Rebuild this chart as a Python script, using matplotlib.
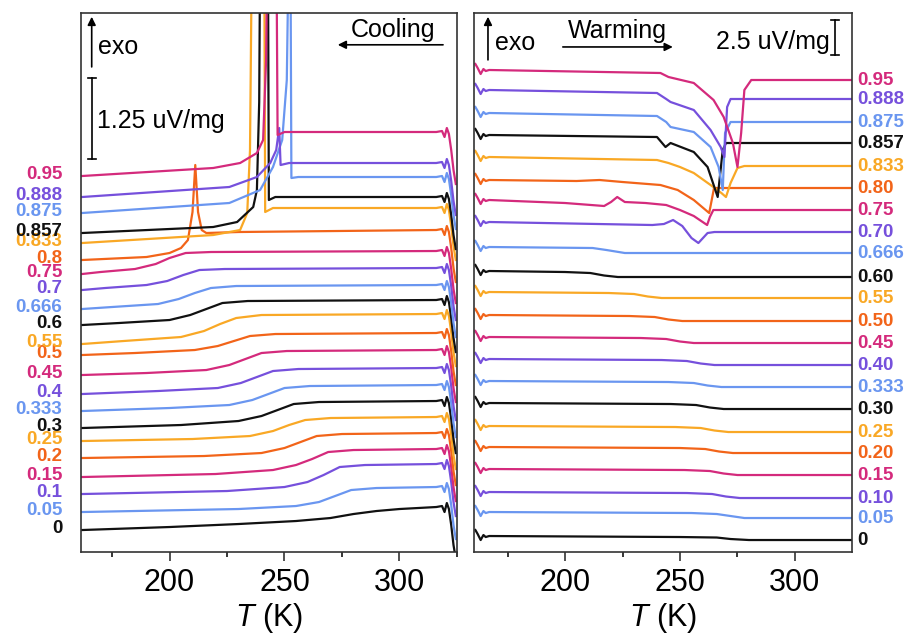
import matplotlib
matplotlib.use("Agg")
import matplotlib.pyplot as plt
from matplotlib.ticker import MultipleLocator

plt.rcParams['font.family'] = ['Liberation Sans', 'DejaVu Sans']
plt.rcParams['mathtext.fontset'] = 'custom'
plt.rcParams['mathtext.it'] = 'Liberation Sans:italic'
plt.rcParams['mathtext.rm'] = 'Liberation Sans'

# ---------------- colours (cycle of six, from composition 0 upward) -------------
palette = ['#111111', '#6A96F0', '#7650DC', '#D42A7C', '#F26419', '#F9A825']

# ---------------- composition labels (bottom -> top) ----------------------------
cool_labels = ['0', '0.05', '0.1', '0.15', '0.2', '0.25', '0.3', '0.333', '0.4',
               '0.45', '0.5', '0.55', '0.6', '0.666', '0.7', '0.75', '0.8',
               '0.833', '0.857', '0.875', '0.888', '0.95']
warm_labels = ['0', '0.05', '0.10', '0.15', '0.20', '0.25', '0.30', '0.333', '0.40',
               '0.45', '0.50', '0.55', '0.60', '0.666', '0.70', '0.75', '0.80',
               '0.833', '0.857', '0.875', '0.888', '0.95']

# ---------------- cooling curves: T (K) and offset heat-flow signal (a.u.) -------
T_c0 = [162, 200, 230, 255, 270, 280, 290, 300, 316]
s_c0 = [22, 25, 28, 31, 34, 38, 41, 43, 45]
T_c1 = [162, 230, 255, 265, 272, 279, 290, 316]
s_c1 = [40, 43, 46, 50, 56, 62, 64, 65]
T_c2 = [162, 225, 250, 260, 267, 274, 285, 316]
s_c2 = [58, 61, 65, 70, 77, 85, 87, 88]
T_c3 = [162, 220, 245, 255, 262, 269, 280, 316]
s_c3 = [75, 78, 82, 87, 93, 100, 102, 103]
T_c4 = [162, 215, 240, 250, 257, 264, 275, 316]
s_c4 = [94, 96, 99, 104, 110, 116, 118, 119]
T_c5 = [162, 210, 235, 245, 252, 259, 270, 316]
s_c5 = [111, 113, 116, 121, 127, 132, 134, 135]
T_c6 = [162, 205, 230, 240, 247, 254, 265, 316]
s_c6 = [124, 127, 131, 136, 142, 148, 150, 151]
T_c7 = [162, 200, 226, 236, 243, 250, 261, 316]
s_c7 = [141, 144, 147, 152, 158, 164, 166, 167]
T_c8 = [162, 195, 221, 231, 238, 245, 256, 316]
s_c8 = [158, 161, 164, 169, 175, 181, 183, 184]
T_c9 = [162, 190, 216, 226, 233, 240, 251, 316]
s_c9 = [177, 179, 182, 187, 193, 199, 201, 202]
T_c10 = [162, 185, 211, 221, 228, 235, 246, 316]
s_c10 = [197, 199, 202, 206, 211, 216, 218, 219]
T_c11 = [162, 180, 205, 215, 222, 229, 240, 316]
s_c11 = [208, 211, 215, 221, 228, 234, 237, 238]
T_c12 = [162, 178, 200, 209, 216, 223, 234, 316]
s_c12 = [227, 229, 232, 237, 243, 249, 251, 252]
T_c13 = [162, 175, 195, 204, 211, 218, 229, 316]
s_c13 = [243, 245, 248, 253, 259, 264, 266, 267]
T_c14 = [162, 172, 190, 199, 206, 213, 224, 316]
s_c14 = [262, 264, 267, 271, 277, 282, 283, 284]
T_c15 = [162, 170, 185, 194, 200, 207, 218, 316]
s_c15 = [278, 280, 283, 288, 294, 299, 300, 301]
T_c16 = [162, 190, 200, 205, 208, 210, 211.2, 212.4, 214, 216, 230, 316]
s_c16 = [292, 295, 299, 304, 312, 340, 387, 340, 322, 319, 320, 322]
T_c17 = [162, 219, 230.7, 233.8, 235, 235.8, 241.2, 241.6, 245, 316]
s_c17 = [309, 317, 322, 339, 402, 600, 600, 340, 344, 344]
T_c18 = [162, 219, 229.4, 236.4, 238, 239, 239.4, 242.8, 243.2, 246, 316]
s_c18 = [319, 325, 330, 345, 362, 450, 600, 600, 352, 355, 355]
T_c19 = [162, 226, 239.4, 245, 249, 251, 251.8, 252.6, 253, 256, 316]
s_c19 = [339, 349, 362, 385, 412, 472, 600, 600, 374, 375, 375]
T_c20 = [162, 226, 238, 243.8, 246.4, 247.7, 248.3, 252, 316]
s_c20 = [355, 365, 375, 389, 402, 424, 387, 389, 389]
T_c21 = [162, 219, 230.7, 238, 240.7, 242, 242.5, 246.5, 247, 250, 316]
s_c21 = [376, 384, 389, 399, 412, 492, 600, 600, 417, 420, 420]

# start-of-run transient at the hot end of every cooling trace (relative to plateau)
cool_end_T = [318.5, 319.6, 320.6, 321.5, 322.5, 323.5, 324.5]
cool_end_ds = [1, -5, 4, -2, -18, -38, -52]

# ---------------- warming curves --------------------------------------------------
T_w0 = [167, 250, 266, 272, 280, 325]
s_w0 = [16, 15, 14.5, 13, 12, 12]
T_w1 = [167, 255, 266, 272, 278, 325]
s_w1 = [40, 39, 38, 36, 34, 34]
T_w2 = [167, 253, 264, 270, 276, 325]
s_w2 = [60, 59, 58, 55.5, 54, 54]
T_w3 = [167, 252, 263, 269, 275, 325]
s_w3 = [83, 82, 81, 78.5, 77, 77]
T_w4 = [167, 250, 261, 267, 273, 325]
s_w4 = [105, 104, 103, 100.5, 99, 99]
T_w5 = [167, 248, 259, 265, 271, 325]
s_w5 = [126, 125, 124, 121.5, 120, 120]
T_w6 = [167, 246, 257, 263, 269, 325]
s_w6 = [149, 148, 147, 144.5, 143, 143]
T_w7 = [167, 245, 256, 262, 268, 325]
s_w7 = [171, 170, 169, 166.5, 165, 165]
T_w8 = [167, 242, 253, 259, 265, 325]
s_w8 = [193, 192, 191, 188.5, 187, 187]
T_w9 = [167, 233, 244, 250, 256, 325]
s_w9 = [215, 214, 213, 210.5, 209, 209]
T_w10 = [167, 228, 239, 245, 251, 325]
s_w10 = [237, 236, 235, 232.5, 231, 231]
T_w11 = [167, 219, 230, 236, 242, 325]
s_w11 = [260, 259, 258, 255.5, 254, 254]
T_w12 = [167, 200, 211, 217, 223, 325]
s_w12 = [281, 280, 279, 276.5, 275, 275]
T_w13 = [167, 212, 218, 226, 325]
s_w13 = [305, 304, 302, 299, 299]
T_w14 = [167, 238, 243, 247, 251, 255, 258, 260, 262, 265, 325]
s_w14 = [330, 327, 328, 332, 326, 314, 309, 314, 319, 320, 320]
T_w15 = [167, 200, 217, 220, 222.7, 226, 235, 244, 250, 256, 261.8, 263, 264.5, 325]
s_w15 = [352, 349, 346, 350, 355, 350, 349, 347, 342, 336, 327, 335, 342, 342]
T_w16 = [167, 205, 215, 225, 241.5, 249, 256, 262.7, 263.8, 264.8, 325]
s_w16 = [372, 371, 372, 370, 367, 362, 352, 339, 352, 364, 364]
T_w17 = [167, 240, 245, 250, 256, 263.3, 268, 270, 272, 275, 278, 325]
s_w17 = [395, 392, 389, 385, 379, 367, 359, 355, 369, 384, 386, 386]
T_w18 = [167, 240, 243.7, 245.9, 256, 262, 266.4, 268.6, 270, 325]
s_w18 = [417, 415, 405, 409, 400, 385, 355, 402, 409, 409]
T_w19 = [167, 240, 244, 245.9, 256, 263.3, 266.8, 268.6, 269.6, 272, 325]
s_w19 = [439, 436, 430, 425, 420, 405, 385, 362, 419, 430, 430]
T_w20 = [167, 240, 244, 245.9, 256, 263.3, 267.7, 269.3, 270.5, 272, 325]
s_w20 = [462, 459, 453, 450, 442, 422, 405, 395, 445, 453, 453]
T_w21 = [167, 241.5, 245, 256, 264.6, 269, 273, 275, 276.6, 278, 281, 325]
s_w21 = [482, 479, 475, 469, 452, 435, 409, 385, 419, 462, 472, 472]

# start-of-run transient at the cold end of every warming trace (relative to start)
warm_start_T = [161, 162, 163.3, 164.5, 165.5]
warm_start_ds = [6, 2, -4, 1, -1]

cool_curves = [(T_c0, s_c0), (T_c1, s_c1), (T_c2, s_c2), (T_c3, s_c3), (T_c4, s_c4),
               (T_c5, s_c5), (T_c6, s_c6), (T_c7, s_c7), (T_c8, s_c8), (T_c9, s_c9),
               (T_c10, s_c10), (T_c11, s_c11), (T_c12, s_c12), (T_c13, s_c13),
               (T_c14, s_c14), (T_c15, s_c15), (T_c16, s_c16), (T_c17, s_c17),
               (T_c18, s_c18), (T_c19, s_c19), (T_c20, s_c20), (T_c21, s_c21)]
warm_curves = [(T_w0, s_w0), (T_w1, s_w1), (T_w2, s_w2), (T_w3, s_w3), (T_w4, s_w4),
               (T_w5, s_w5), (T_w6, s_w6), (T_w7, s_w7), (T_w8, s_w8), (T_w9, s_w9),
               (T_w10, s_w10), (T_w11, s_w11), (T_w12, s_w12), (T_w13, s_w13),
               (T_w14, s_w14), (T_w15, s_w15), (T_w16, s_w16), (T_w17, s_w17),
               (T_w18, s_w18), (T_w19, s_w19), (T_w20, s_w20), (T_w21, s_w21)]

# ---------------- figure -----------------------------------------------------------
fig = plt.figure(figsize=(9.11, 6.34), dpi=100)
axL = fig.add_axes([0.0889, 0.1293, 0.4127, 0.8502])
axR = fig.add_axes([0.5203, 0.1293, 0.4149, 0.8502])

LW = 1.6
for i, (T, s) in enumerate(cool_curves):
    c = palette[i % 6]
    T_all = list(T) + cool_end_T
    s_all = list(s) + [s[-1] + d for d in cool_end_ds]
    axL.plot(T_all, s_all, color=c, lw=LW, solid_joinstyle='round', zorder=2 + i * 0.01)
    axL.text(-0.05, s[0] + 2, cool_labels[i], transform=axL.get_yaxis_transform(),
             ha='right', va='center', fontsize=13.5, fontweight='bold', color=c,
             clip_on=False)

for i, (T, s) in enumerate(warm_curves):
    c = palette[i % 6]
    T_all = warm_start_T + list(T)
    s_all = [s[0] + d for d in warm_start_ds] + list(s)
    axR.plot(T_all, s_all, color=c, lw=LW, solid_joinstyle='round', zorder=2 + i * 0.01)
    axR.text(1.013, s[-1], warm_labels[i], transform=axR.get_yaxis_transform(),
             ha='left', va='center', fontsize=13.5, fontweight='bold', color=c,
             clip_on=False)

for ax, xl in ((axL, (161.5, 325)), (axR, (160.4, 324.8))):
    ax.set_xlim(*xl)
    ax.set_ylim(0, 539)
    ax.set_yticks([])
    ax.xaxis.set_major_locator(MultipleLocator(50))
    ax.xaxis.set_minor_locator(MultipleLocator(25))
    ax.tick_params(axis='x', which='major', direction='out', length=6.5, width=1.1,
                   labelsize=22, pad=5, colors='#222222')
    ax.tick_params(axis='x', which='minor', direction='out', length=3.5, width=1.1)
    ax.tick_params(axis='x', labelcolor='black')
    for sp in ax.spines.values():
        sp.set_linewidth(1.2)
        sp.set_color('#333333')
    ax.set_xlabel(r'$\mathit{T}$ (K)', fontsize=22, labelpad=2)

# ---------------- annotations: left panel ----------------------------------------
axL.annotate('', xy=(0.0285, 0.993), xytext=(0.0285, 0.900), xycoords='axes fraction',
             arrowprops=dict(arrowstyle='-|>', color='black', lw=1.2,
                             mutation_scale=12, shrinkA=0, shrinkB=0))
axL.text(0.045, 0.924, 'exo', transform=axL.transAxes, fontsize=18, va='baseline')
axL.plot([0.0285, 0.0285], [0.729, 0.879], transform=axL.transAxes, color='black', lw=1.2)
axL.plot([0.018, 0.039], [0.729, 0.729], transform=axL.transAxes, color='black', lw=1.2)
axL.plot([0.018, 0.039], [0.879, 0.879], transform=axL.transAxes, color='black', lw=1.2)
axL.text(0.043, 0.787, '1.25 uV/mg', transform=axL.transAxes, fontsize=18, va='baseline')
axL.text(0.831, 0.955, 'Cooling', transform=axL.transAxes, fontsize=18, ha='center',
         va='baseline')
axL.annotate('', xy=(0.683, 0.941), xytext=(0.963, 0.941), xycoords='axes fraction',
             arrowprops=dict(arrowstyle='-|>', color='black', lw=1.2,
                             mutation_scale=12, shrinkA=0, shrinkB=0))

# ---------------- annotations: right panel ---------------------------------------
axR.annotate('', xy=(0.037, 0.993), xytext=(0.037, 0.913), xycoords='axes fraction',
             arrowprops=dict(arrowstyle='-|>', color='black', lw=1.2,
                             mutation_scale=12, shrinkA=0, shrinkB=0))
axR.text(0.056, 0.931, 'exo', transform=axR.transAxes, fontsize=18, va='baseline')
axR.text(0.380, 0.9545, 'Warming', transform=axR.transAxes, fontsize=18, ha='center',
         va='baseline')
axR.annotate('', xy=(0.526, 0.937), xytext=(0.235, 0.937), xycoords='axes fraction',
             arrowprops=dict(arrowstyle='-|>', color='black', lw=1.2,
                             mutation_scale=12, shrinkA=0, shrinkB=0))
axR.text(0.942, 0.933, '2.5 uV/mg', transform=axR.transAxes, fontsize=18, ha='right',
         va='baseline')
axR.plot([0.955, 0.955], [0.922, 0.987], transform=axR.transAxes, color='black', lw=1.2)
axR.plot([0.945, 0.965], [0.922, 0.922], transform=axR.transAxes, color='black', lw=1.2)
axR.plot([0.945, 0.965], [0.987, 0.987], transform=axR.transAxes, color='black', lw=1.2)

fig.savefig('out.png', dpi=100)
